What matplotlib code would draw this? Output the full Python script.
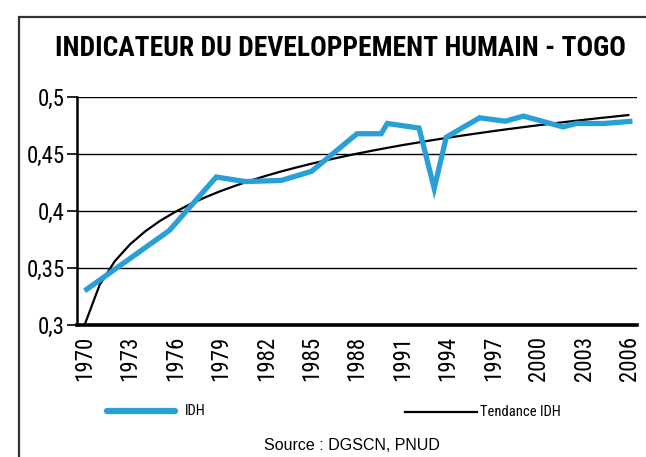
import matplotlib
matplotlib.use("Agg")
import matplotlib.pyplot as plt
from matplotlib.lines import Line2D
from matplotlib.patches import Rectangle
from matplotlib import font_manager

available = {f.name for f in font_manager.fontManager.ttflist}
preferred = ["Liberation Sans Narrow", "Roboto Condensed", "Open Sans Condensed",
             "DejaVu Sans Condensed", "Roboto", "Liberation Sans"]
cond = next((p for p in preferred if p in available), "DejaVu Sans")
plt.rcParams['font.family'] = [cond, 'DejaVu Sans']
is_condensed = cond in preferred[:4]

# --- data ---
title = "INDICATEUR DU DEVELOPPEMENT HUMAIN - TOGO"
idh_years = [1970, 1975.6, 1978.7, 1980.6, 1983.0, 1985.0, 1988.0, 1989.6, 1990.0,
             1992.1, 1993.1, 1993.9, 1996.1, 1997.8, 1999.0, 2001.6, 2002.5, 2004.3, 2006.2]
idh_values = [0.330, 0.383, 0.430, 0.426, 0.427, 0.435, 0.468, 0.468, 0.477,
              0.473, 0.420, 0.465, 0.482, 0.479, 0.4835, 0.474, 0.477, 0.477, 0.479]

trend_years = list(range(1970, 2007))
trend_values = [0.300, 0.3354, 0.3561, 0.3708, 0.3822, 0.3916, 0.3994, 0.4063, 0.4123,
                0.4177, 0.4225, 0.4270, 0.4311, 0.4349, 0.4384, 0.4417, 0.4448, 0.4477,
                0.4505, 0.4531, 0.4556, 0.4580, 0.4602, 0.4624, 0.4645, 0.4665, 0.4684,
                0.4703, 0.4721, 0.4738, 0.4755, 0.4771, 0.4787, 0.4802, 0.4817, 0.4831,
                0.4845]

x_ticks = list(range(1970, 2007, 3))
y_ticks = [0.3, 0.35, 0.4, 0.45, 0.5]
y_tick_labels = ["0,3", "0,35", "0,4", "0,45", "0,5"]

series_names = ["IDH", "Tendance IDH"]
source_text = "Source : DGSCN, PNUD"

blue = "#28a0d7"

W, H = 646, 457
fig = plt.figure(figsize=(W / 100, H / 100), dpi=100)
ax = fig.add_axes([77 / W, 1 - 325 / H, (637 - 77) / W, (325 - 97.3) / H])

ax.plot(trend_years, trend_values, color="black", lw=1.6, zorder=3,
        solid_capstyle="butt")
ax.plot(idh_years, idh_values, color=blue, lw=3.8, zorder=4,
        solid_joinstyle="miter", solid_capstyle="butt")

tick_fs = 16.5 if is_condensed else 12.5
ax.set_xlim(1969.5, 2006.5)
ax.set_ylim(0.3, 0.5)
ax.set_yticks(y_ticks)
ax.set_yticklabels(y_tick_labels, fontsize=tick_fs)
ax.set_xticks(x_ticks)
ax.set_xticklabels([str(y) for y in x_ticks], rotation=90, fontsize=tick_fs)
ax.tick_params(axis="x", length=0, pad=8)
ax.tick_params(axis="y", length=7, width=1.2, direction="out", pad=2)

for yv in y_ticks[1:]:
    ax.axhline(yv, color="black", lw=1.0, zorder=1)

for s in ["top", "right"]:
    ax.spines[s].set_visible(False)
ax.spines["left"].set_linewidth(1.8)
ax.spines["bottom"].set_linewidth(2.6)

title_fs = 19.8 if is_condensed else 14.5
fig.text(340 / W, 1 - 48 / H, title, ha="center", va="center", fontsize=title_fs,
         fontweight="bold")

# legend (drawn manually to mimic layout)
leg_fs = 10.5 if is_condensed else 9.5
fig.add_artist(Line2D([107 / W, 175 / W], [1 - 411 / H] * 2, color=blue, lw=4.5,
                      solid_capstyle="round"))
fig.text(185 / W, 1 - 411 / H, series_names[0], ha="left", va="center", fontsize=leg_fs)
fig.add_artist(Line2D([405 / W, 477 / W], [1 - 412 / H] * 2, color="black", lw=1.6))
fig.text(480 / W, 1 - 412 / H, series_names[1], ha="left", va="center", fontsize=leg_fs)

fig.text(352 / W, 1 - 446 / H, source_text, ha="center", va="center", fontsize=11.5,
         family=["Liberation Sans", "DejaVu Sans"])

# outer frame (left and top visible)
fig.add_artist(Rectangle((19 / W, -0.2), 1.5, 1 - 17 / H + 0.2, transform=fig.transFigure,
                         fill=False, edgecolor="#333333", lw=1.6))

fig.savefig("out.png", dpi=100)
